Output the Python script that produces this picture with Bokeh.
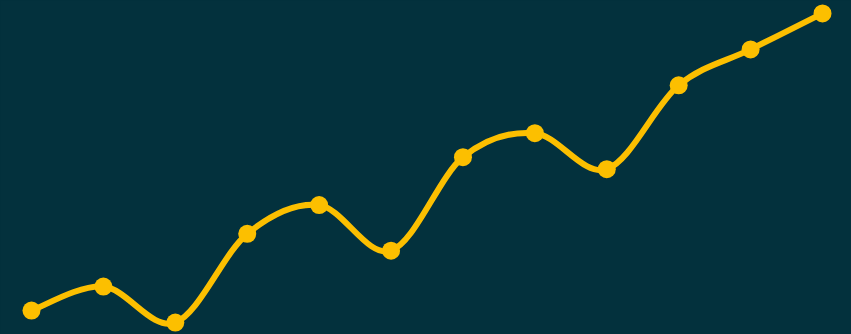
from bokeh.plotting import figure
from bokeh.models import Range1d, ColumnDataSource
from bokeh.embed import file_html
from bokeh.resources import INLINE

# data
x_vals = list(range(12))
y_vals = [10, 20, 5, 42, 54, 35, 74, 84, 69, 104, 119, 134]

BG = "#03313d"
LINE = "#fcbf00"

p = figure(width=851, height=334, output_backend="svg", toolbar_location=None,
           x_range=Range1d(-0.431, 11.403), y_range=Range1d(0, 139.4),
           min_border=0, background_fill_color=BG, border_fill_color=BG,
           outline_line_color=None)
p.axis.visible = False
p.grid.visible = False

# Catmull-Rom spline through the data, drawn as bezier segments
n = len(x_vals)
x0, y0, x1, y1, cx0, cy0, cx1, cy1 = [], [], [], [], [], [], [], []
for i in range(n - 1):
    pa = (x_vals[max(i - 1, 0)], y_vals[max(i - 1, 0)])
    pb = (x_vals[i], y_vals[i])
    pc = (x_vals[i + 1], y_vals[i + 1])
    pd = (x_vals[min(i + 2, n - 1)], y_vals[min(i + 2, n - 1)])
    x0.append(pb[0]); y0.append(pb[1])
    x1.append(pc[0]); y1.append(pc[1])
    cx0.append(pb[0] + (pc[0] - pa[0]) / 6); cy0.append(pb[1] + (pc[1] - pa[1]) / 6)
    cx1.append(pc[0] - (pd[0] - pb[0]) / 6); cy1.append(pc[1] - (pd[1] - pb[1]) / 6)

src = ColumnDataSource(dict(x0=x0, y0=y0, x1=x1, y1=y1, cx0=cx0, cy0=cy0, cx1=cx1, cy1=cy1))
p.bezier(x0="x0", y0="y0", x1="x1", y1="y1", cx0="cx0", cy0="cy0", cx1="cx1", cy1="cy1",
         source=src, line_color=LINE, line_width=6, line_cap="round")
p.scatter(x_vals, y_vals, size=18, fill_color=LINE, line_color=None)

html = file_html(p, INLINE)
html = html.replace("<head>", "<head><style>html,body{margin:0 !important;padding:0;background:%s;overflow:hidden;}</style>" % BG, 1)
open("out.html", "w").write(html)
